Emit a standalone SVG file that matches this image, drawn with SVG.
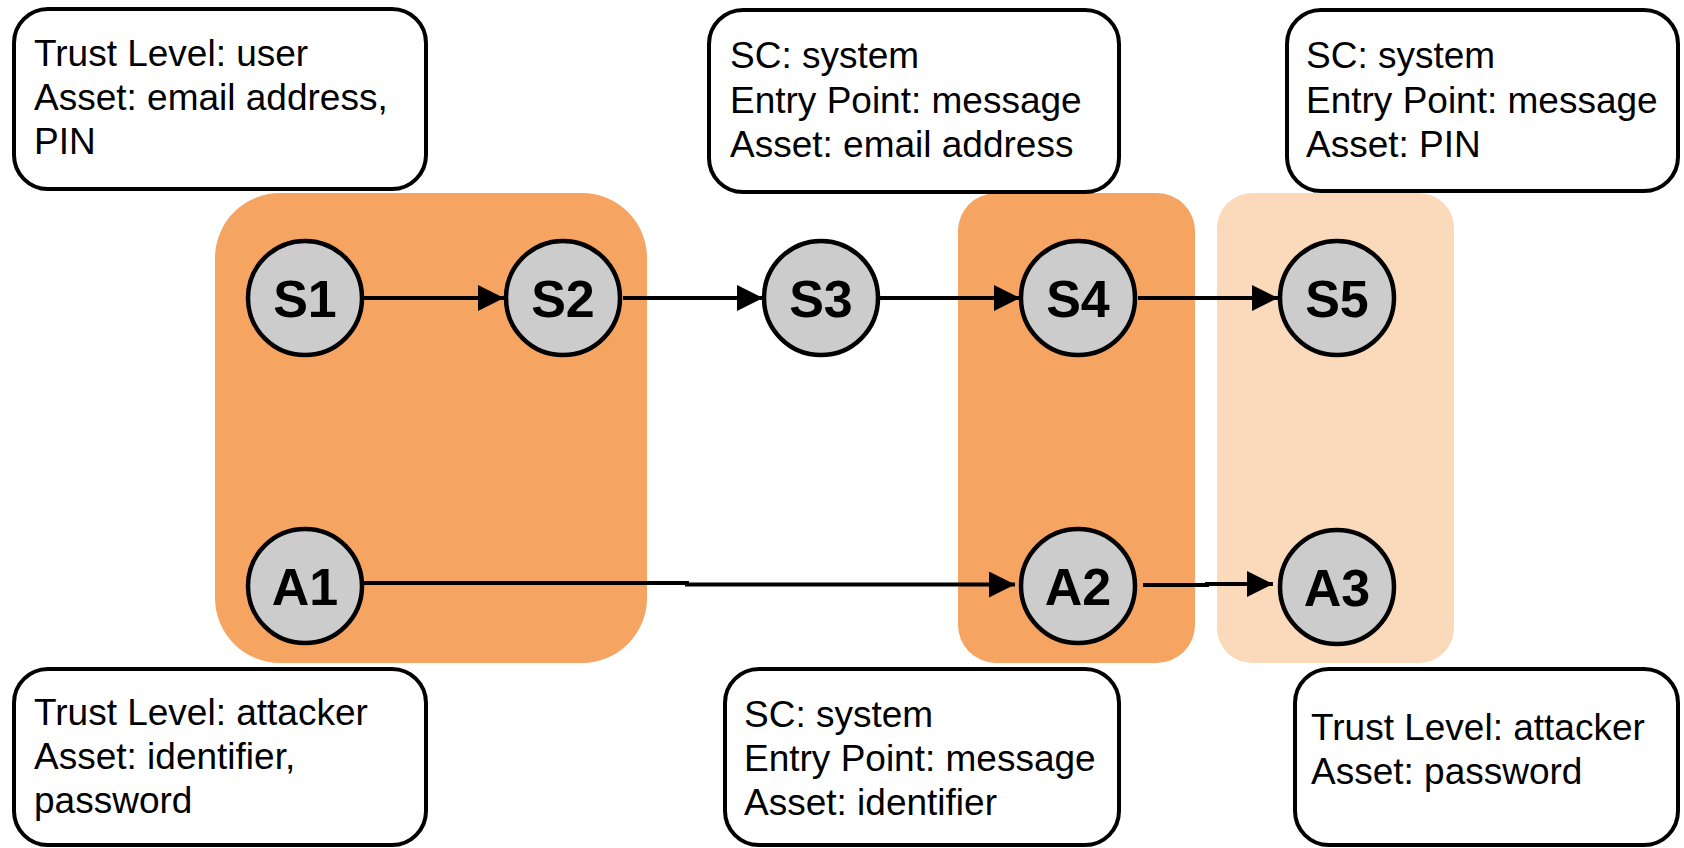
<svg xmlns="http://www.w3.org/2000/svg" width="1684" height="848" viewBox="0 0 1684 848">
  <style>
    .note { fill: #ffffff; stroke: #000000; stroke-width: 4; }
    .note-text { font-family: "Liberation Sans", Arial, sans-serif; font-size: 37px; fill: #000000; }
    .state { fill: #cccccc; stroke: #000000; stroke-width: 4.5; }
    .state-label { font-family: "Liberation Sans", Arial, sans-serif; font-size: 52px; font-weight: bold; fill: #000000; text-anchor: middle; }
    .edge { fill: none; stroke: #000000; stroke-width: 4; marker-end: url(#arrow); }
    .zone-strong { fill: #f5a462; }
    .zone-light { fill: #fbd9bb; }
  </style>
  <defs>
    <marker id="arrow" markerUnits="userSpaceOnUse" markerWidth="27" markerHeight="27" refX="26" refY="13" orient="auto">
      <path d="M0,0 L26,13 L0,26 Z" fill="#000000"/>
    </marker>
  </defs>

  <rect width="1684" height="848" fill="#ffffff"/>

  <!-- shaded zones -->
  <g id="zones">
    <rect id="zone-left" class="zone-strong" x="215" y="193" width="432" height="470" rx="65" ry="65"/>
    <rect id="zone-mid" class="zone-strong" x="958" y="193" width="237" height="470" rx="38" ry="38"/>
    <rect id="zone-right" class="zone-light" x="1217" y="193" width="237" height="470" rx="35" ry="35"/>
  </g>

  <!-- connectors -->
  <g id="connectors">
    <path id="e-s1-s2" class="edge" d="M364,298 H504"/>
    <path id="e-s2-s3" class="edge" d="M623,298 H763"/>
    <path id="e-s3-s4" class="edge" d="M880,298 H1020"/>
    <path id="e-s4-s5" class="edge" d="M1138,298 H1278"/>
    <path id="e-a1-a2" class="edge" d="M364,583 H687 V584.5 H1015"/>
    <path id="e-a2-a3" class="edge" d="M1143,585 H1207 V584 H1273"/>
  </g>

  <!-- states -->
  <g id="S1">
    <circle class="state" cx="305" cy="298" r="57"/>
    <text class="state-label" x="305" y="317">S1</text>
  </g>
  <g id="S2">
    <circle class="state" cx="563" cy="298" r="57"/>
    <text class="state-label" x="563" y="317">S2</text>
  </g>
  <g id="S3">
    <circle class="state" cx="821" cy="298" r="57"/>
    <text class="state-label" x="821" y="317">S3</text>
  </g>
  <g id="S4">
    <circle class="state" cx="1078" cy="298" r="57"/>
    <text class="state-label" x="1078" y="317">S4</text>
  </g>
  <g id="S5">
    <circle class="state" cx="1337" cy="298" r="57"/>
    <text class="state-label" x="1337" y="317">S5</text>
  </g>
  <g id="A1">
    <circle class="state" cx="305" cy="586" r="57"/>
    <text class="state-label" x="305" y="605">A1</text>
  </g>
  <g id="A2">
    <circle class="state" cx="1078" cy="586" r="57"/>
    <text class="state-label" x="1078" y="605">A2</text>
  </g>
  <g id="A3">
    <circle class="state" cx="1337" cy="587" r="57"/>
    <text class="state-label" x="1337" y="606">A3</text>
  </g>

  <!-- annotation boxes -->
  <g id="note-s1">
    <rect class="note" x="14" y="9" width="412" height="180" rx="34" ry="34"/>
    <text class="note-text" x="34" y="66">Trust Level: user</text>
    <text class="note-text" x="34" y="110">Asset: email address,</text>
    <text class="note-text" x="34" y="154">PIN</text>
  </g>
  <g id="note-s3">
    <rect class="note" x="709" y="10" width="410" height="182" rx="34" ry="34"/>
    <text class="note-text" x="730" y="68">SC: system</text>
    <text class="note-text" x="730" y="113">Entry Point: message</text>
    <text class="note-text" x="730" y="157">Asset: email address</text>
  </g>
  <g id="note-s5">
    <rect class="note" x="1287" y="10" width="391" height="181" rx="34" ry="34"/>
    <text class="note-text" x="1306" y="68">SC: system</text>
    <text class="note-text" x="1306" y="113">Entry Point: message</text>
    <text class="note-text" x="1306" y="157">Asset: PIN</text>
  </g>
  <g id="note-a1">
    <rect class="note" x="14" y="669" width="412" height="176" rx="34" ry="34"/>
    <text class="note-text" x="34" y="725">Trust Level: attacker</text>
    <text class="note-text" x="34" y="769">Asset: identifier,</text>
    <text class="note-text" x="34" y="813">password</text>
  </g>
  <g id="note-a2">
    <rect class="note" x="725" y="669" width="394" height="176" rx="34" ry="34"/>
    <text class="note-text" x="744" y="727">SC: system</text>
    <text class="note-text" x="744" y="771">Entry Point: message</text>
    <text class="note-text" x="744" y="815">Asset: identifier</text>
  </g>
  <g id="note-a3">
    <rect class="note" x="1295" y="669" width="383" height="176" rx="34" ry="34"/>
    <text class="note-text" x="1311" y="740">Trust Level: attacker</text>
    <text class="note-text" x="1311" y="784">Asset: password</text>
  </g>
</svg>
